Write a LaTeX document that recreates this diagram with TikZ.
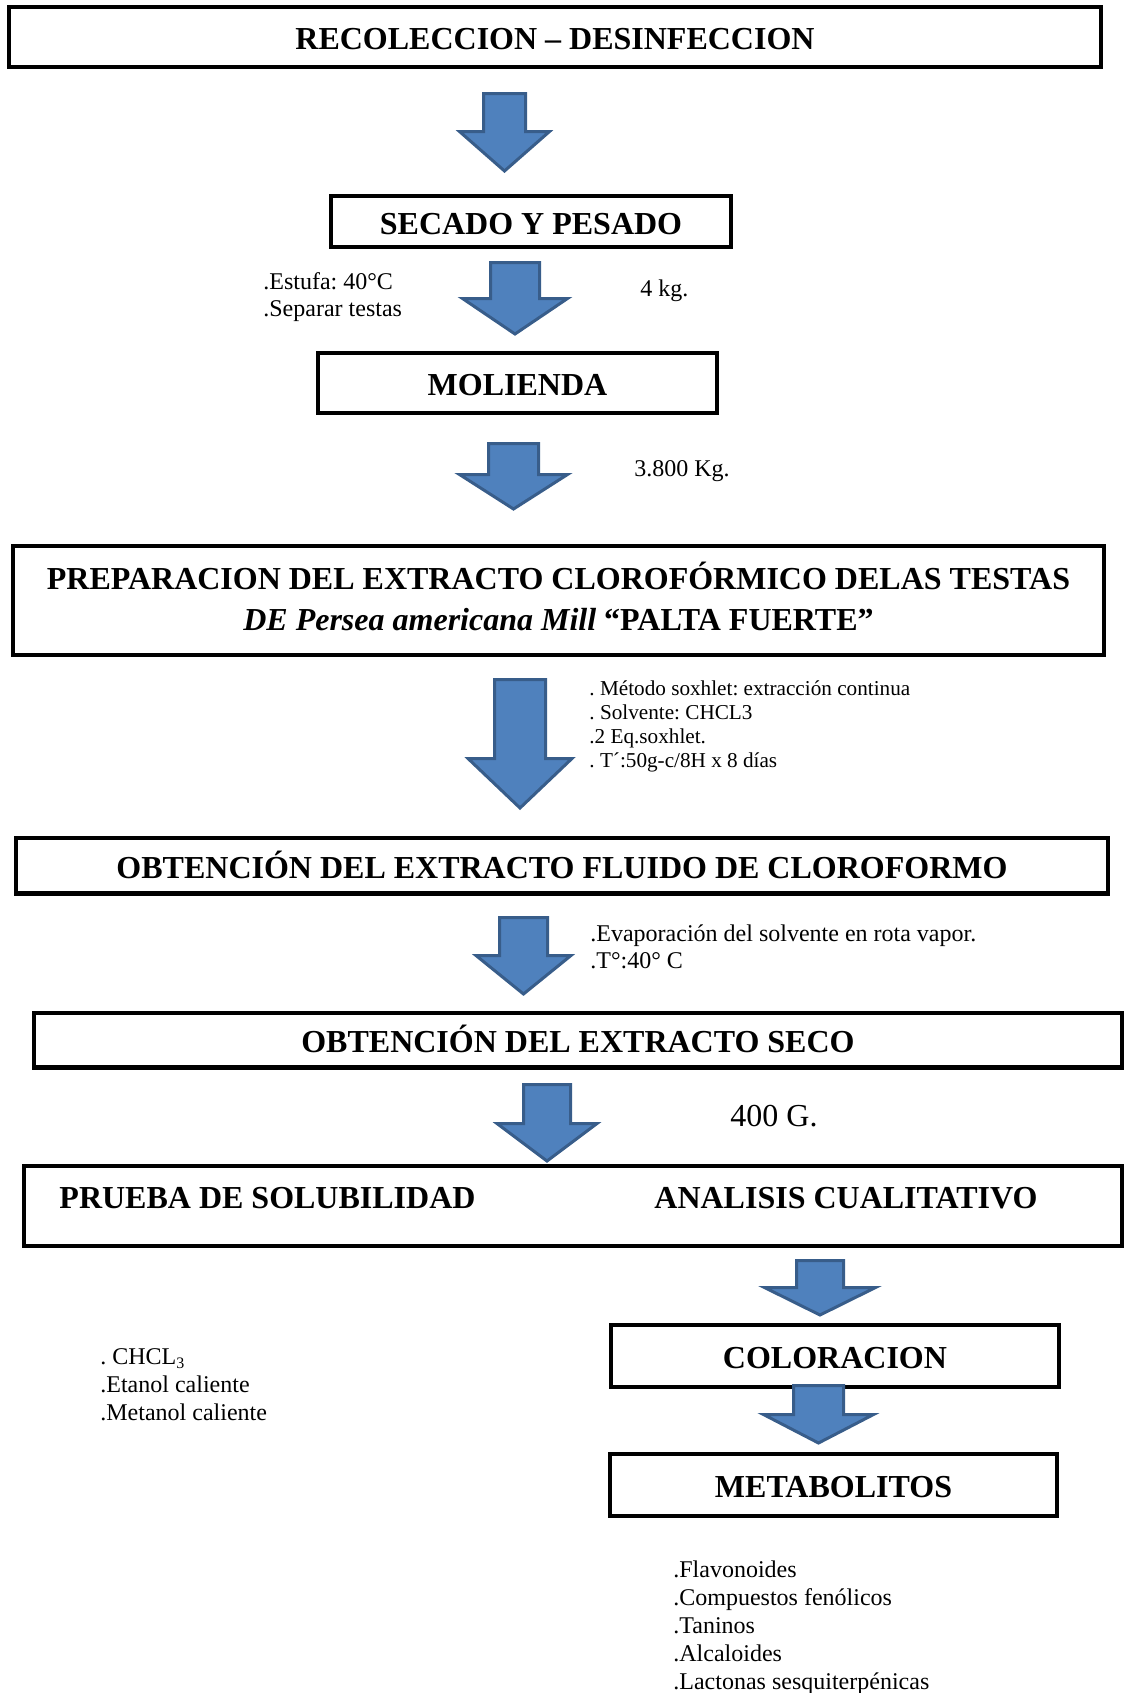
\documentclass[tikz,border=0pt]{standalone}
\usepackage{fontspec}
\setmainfont{Liberation Serif}
\frenchspacing
\definecolor{azul}{HTML}{4F81BD}
\definecolor{azulborde}{HTML}{385D8A}
\newcommand{\flecha}[6]{%
  \draw[flecha] (#1-#5,#2) -- (#1+#5,#2) -- (#1+#5,#3) -- (#1+#6,#3) -- (#1,#4) -- (#1-#6,#3) -- (#1-#5,#3) -- cycle;}

\begin{document}
\begin{tikzpicture}[x=0.5pt,y=-0.5pt,
  caja/.style={draw,line width=2.2pt,inner sep=0pt,align=center,text height=12.8pt,text depth=0pt,font=\fontsize{16}{20.5}\selectfont\bfseries},
  titulo/.style={inner sep=0pt,align=center,font=\fontsize{16}{20.5}\selectfont\bfseries},
  nota/.style={inner sep=0pt,anchor=west,align=left,font=\fontsize{12}{13.8}\selectfont},
  flecha/.style={fill=azul,draw=azulborde,line width=1.5pt}
]
\useasboundingbox (0,0) rectangle (1126,1693);

\node[caja,minimum width=545.8pt,minimum height=29.8pt] (recoleccion) at (555,37) {RECOLECCION -- DESINFECCION};
\node[caja,minimum width=199.8pt,minimum height=25.3pt] (secado) at (531,221.5) {SECADO Y PESADO};
\node[caja,minimum width=199.3pt,minimum height=29.8pt] (molienda) at (517.5,383) {MOLIENDA};
\node[caja,minimum width=545.3pt,minimum height=54.3pt] (preparacion) at (558.5,600.5) {};
\node[titulo] (extracto) at (558.5,596) {PREPARACION DEL EXTRACTO CLOROFÓRMICO DELAS TESTAS\\{\itshape DE Persea americana Mill} “PALTA FUERTE”};
\node[caja,minimum width=545.8pt,minimum height=27.8pt] (fluido) at (562,865.5) {OBTENCIÓN DEL EXTRACTO FLUIDO DE CLOROFORMO};
\node[caja,minimum width=543.8pt,minimum height=27.3pt] (seco) at (578,1040) {OBTENCIÓN DEL EXTRACTO SECO};
\node[caja,minimum width=549pt,minimum height=39.8pt] (pruebas) at (572.75,1206) {};
\node[titulo] (solubilidad) at (267.5,1198) {PRUEBA DE SOLUBILIDAD};
\node[titulo] (cualitativo) at (846,1198) {ANALISIS CUALITATIVO};
\node[caja,minimum width=223.8pt,minimum height=30.8pt] (coloracion) at (835,1356) {COLORACION};
\node[caja,minimum width=223.3pt,minimum height=30.8pt] (metabolitos) at (833.5,1485) {METABOLITOS};

\flecha{504.5}{93.5}{131.5}{171}{21}{45}
\flecha{515}{262.5}{298.5}{334}{24.5}{52.5}
\flecha{513.5}{443.5}{474.5}{509}{25}{54}
\flecha{520}{679.5}{758.5}{808}{25.5}{52}
\flecha{523.5}{917.5}{955.5}{994}{24}{47.5}
\flecha{547}{1084.5}{1123.5}{1161}{23.5}{50}
\flecha{820}{1260.5}{1287.5}{1315}{23.5}{55.5}
\flecha{818.5}{1385.5}{1414.5}{1443}{25}{55}

\node[nota,font=\fontsize{12}{13.2}\selectfont] (estufa) at (263,297) {.Estufa: 40°C\\.Separar testas};
\node[nota] (peso1) at (640,291) {4 kg.};
\node[nota] (peso2) at (634,471) {3.800 Kg.};
\node[nota,font=\fontsize{10.6}{12}\selectfont] (soxhlet) at (589,726) {. Método soxhlet: extracción continua\\. Solvente: CHCL3\\.2 Eq.soxhlet.\\. T´:50g-c/8H x 8 días};
\node[nota,font=\fontsize{12}{13.5}\selectfont] (evaporacion) at (590,946.5) {.Evaporación del solvente en rota vapor.\\.T°:40° C};
\node[nota,font=\fontsize{16}{19}\selectfont] (peso3) at (730,1116) {400 G.};
\node[nota,font=\fontsize{12}{14}\selectfont] (solventes) at (100,1385) {. CHCL\textsubscript{3}\\.Etanol caliente\\.Metanol caliente};
\node[nota,font=\fontsize{12}{14}\selectfont] (lista) at (673,1628) {.Flavonoides\\.Compuestos fenólicos\\.Taninos\\.Alcaloides\\.Lactonas sesquiterpénicas};
\end{tikzpicture}
\end{document}
